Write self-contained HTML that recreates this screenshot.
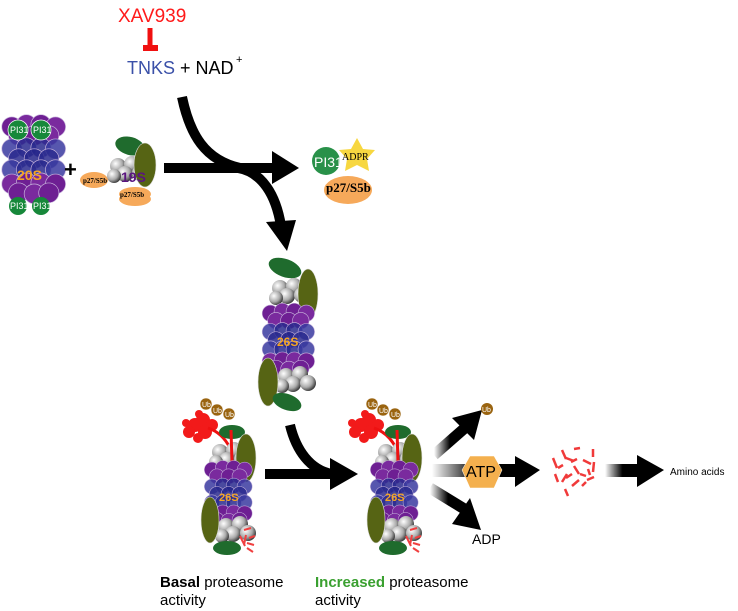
<!DOCTYPE html>
<html><head><meta charset="utf-8"><style>
html,body{margin:0;padding:0;background:#fff;width:738px;height:611px;overflow:hidden}
svg{display:block;font-family:"Liberation Sans",sans-serif}
</style></head><body>
<svg width="738" height="611" viewBox="0 0 738 611" xmlns="http://www.w3.org/2000/svg">
<defs>
 <radialGradient id="gs" cx="0.35" cy="0.35" r="0.7"><stop offset="0" stop-color="#fff"/><stop offset="0.6" stop-color="#aaa"/><stop offset="1" stop-color="#333"/></radialGradient>
 <linearGradient id="fadeR" x1="0" y1="0" x2="1" y2="0"><stop offset="0" stop-color="#000" stop-opacity="0"/><stop offset="0.5" stop-color="#000"/><stop offset="1" stop-color="#000"/></linearGradient>
 <g id="core">
  <g stroke="#c9b6dd" stroke-width="0.6">
   <circle cx="7" cy="8" r="9" fill="#6e1f93"/><circle cx="20" cy="6" r="9" fill="#7a2a9e"/><circle cx="33" cy="6" r="9" fill="#6e1f93"/><circle cx="46" cy="8" r="9" fill="#7a2a9e"/>
   <circle cx="13" cy="16" r="9" fill="#7a2a9e"/><circle cx="27" cy="16" r="9" fill="#6e1f93"/><circle cx="40" cy="16" r="9" fill="#7a2a9e"/>
   <circle cx="7" cy="28" r="9" fill="#3a3aa0" fill-opacity="0.85"/><circle cx="20" cy="27" r="9" fill="#2a2a8e" fill-opacity="0.85"/><circle cx="33" cy="27" r="9" fill="#2a2a8e" fill-opacity="0.85"/><circle cx="46" cy="28" r="9" fill="#3a3aa0" fill-opacity="0.85"/>
   <circle cx="13" cy="37" r="9" fill="#2a2a8e" fill-opacity="0.85"/><circle cx="27" cy="37" r="9" fill="#24248a" fill-opacity="0.85"/><circle cx="40" cy="37" r="9" fill="#2a2a8e" fill-opacity="0.85"/>
   <circle cx="7" cy="47" r="9" fill="#3a3aa0" fill-opacity="0.85"/><circle cx="20" cy="47" r="9" fill="#2a2a8e" fill-opacity="0.85"/><circle cx="33" cy="47" r="9" fill="#2a2a8e" fill-opacity="0.85"/><circle cx="46" cy="47" r="9" fill="#3a3aa0" fill-opacity="0.85"/>
   <circle cx="7" cy="60" r="9" fill="#7a2a9e"/><circle cx="20" cy="59" r="9" fill="#6e1f93"/><circle cx="33" cy="59" r="9" fill="#7a2a9e"/><circle cx="46" cy="60" r="9" fill="#6e1f93"/>
   <circle cx="13" cy="68" r="9" fill="#6e1f93"/><circle cx="27" cy="69" r="9" fill="#7a2a9e"/><circle cx="40" cy="68" r="9" fill="#6e1f93"/>
  </g>
 </g>
 <g id="cap">
  <circle cx="8" cy="8" r="8" fill="url(#gs)"/><circle cx="22" cy="6" r="8" fill="url(#gs)"/><circle cx="15" cy="16" r="8" fill="url(#gs)"/><circle cx="30" cy="15" r="8" fill="url(#gs)"/><circle cx="4" cy="18" r="7" fill="url(#gs)"/>
 </g>
</defs>

<!-- top text -->
<text x="118" y="22" font-size="19" fill="#ff1a1a">XAV939</text>
<rect x="147.5" y="28" width="5" height="20" fill="#f01010"/>
<rect x="143" y="45" width="15" height="6" fill="#f01010"/>
<text x="127" y="74" font-size="18" fill="#3a50a8">TNKS</text>
<text x="180" y="74" font-size="18" fill="#000">+ NAD</text>
<text x="236" y="63" font-size="11" fill="#000">+</text>

<!-- 20S with PI31 -->
<g transform="translate(4,118) scale(1.12 1.1)"><use href="#core"/></g>
<text x="17" y="180" font-size="14" font-weight="bold" fill="#f5a623">20S</text>
<g font-size="9" fill="#fff">
 <circle cx="18" cy="130" r="10" fill="#17883a" stroke="#fff" stroke-width="0.7"/><text x="10" y="133">PI31</text>
 <circle cx="41" cy="130" r="10" fill="#17883a" stroke="#fff" stroke-width="0.7"/><text x="33" y="133">PI31</text>
 <circle cx="18" cy="206" r="9" fill="#17883a"/><text x="10" y="209">PI31</text>
 <circle cx="41" cy="206" r="9" fill="#17883a"/><text x="33" y="209">PI31</text>
</g>
<text x="64" y="177" font-size="22" font-weight="bold">+</text>

<!-- 19S -->
<ellipse cx="94" cy="180" rx="14" ry="8" fill="#f6a95a"/>
<text x="83" y="183" font-size="7" font-family="Liberation Serif" font-weight="bold">p27/S5b</text>
<g transform="translate(110,158)"><use href="#cap"/></g>
<ellipse cx="130" cy="146" rx="15" ry="9" fill="#1f6b2d" transform="rotate(15 130 146)"/>
<ellipse cx="145" cy="165" rx="11" ry="22" fill="#566414" stroke="#ddd" stroke-width="0.6"/>
<ellipse cx="135" cy="199" rx="16" ry="7" fill="#f6a95a"/>
<ellipse cx="135" cy="194" rx="16" ry="7" fill="#f6a95a"/>
<text x="120" y="197" font-size="7" font-family="Liberation Serif" font-weight="bold">p27/S5b</text>
<text x="121" y="182" font-size="14" font-weight="bold" fill="#5a1580">19S</text>

<!-- PI31-ADPR-p27 complex -->
<ellipse cx="348" cy="190" rx="24" ry="14" fill="#f6a95a"/>
<polygon points="357,138 363,149 375,150 367,159 369,171 357,165 345,171 347,159 339,150 351,149" fill="#f7d740"/>
<circle cx="326" cy="161" r="14" fill="#17883a" fill-opacity="0.92"/>
<text x="314" y="167" font-size="14" fill="#fff">PI31</text>
<text x="342" y="160" font-size="10" font-family="Liberation Serif" fill="#000">ADPR</text>
<text x="326" y="192" font-size="13" font-family="Liberation Serif" font-weight="bold">p27/S5b</text>

<!-- top arrows -->
<g fill="none" stroke="#000" stroke-width="10">
 <path d="M182,97 C190,135 205,160 240,168"/>
 <path d="M164,168 L274,168"/>
 <path d="M238,168 C262,172 276,195 281,226"/>
</g>
<polygon points="272,151 299,168 272,184" fill="#000"/>
<polygon points="266,222 296,220 287,251" fill="#000"/>

<!-- middle 26S -->
<ellipse cx="285" cy="268" rx="17" ry="9" fill="#1f6b2d" transform="rotate(20 285 268)"/>
<g transform="translate(272,280)"><use href="#cap"/></g>
<ellipse cx="308" cy="294" rx="10" ry="25" fill="#566414" stroke="#ddd" stroke-width="0.6"/>
<g transform="translate(264,306) scale(0.92)"><use href="#core"/></g>
<text x="277" y="346" font-size="12" font-weight="bold" fill="#f5a623">26S</text>
<g transform="translate(278,368)"><use href="#cap"/></g>
<ellipse cx="268" cy="382" rx="10" ry="24" fill="#566414" stroke="#ddd" stroke-width="0.6"/>
<ellipse cx="287" cy="402" rx="15" ry="8" fill="#1f6b2d" transform="rotate(20 287 402)"/>

<!-- basal 26S -->
<g id="p26">
 <g fill="#f21a1a"><circle cx="195" cy="425" r="7"/><circle cx="203" cy="420" r="7"/><circle cx="205" cy="432" r="7"/><circle cx="189" cy="432" r="6"/><circle cx="212" cy="425" r="6"/><circle cx="198" cy="438" r="5"/><circle cx="186" cy="423" r="4"/><circle cx="199" cy="414" r="4"/></g>
 <path d="M208,428 C220,432 226,440 230,448" stroke="#ee1111" stroke-width="3" fill="none"/>
 <g fill="#9a6410" stroke="#fff" stroke-width="0.5">
  <circle cx="206" cy="404" r="6"/><circle cx="217" cy="410" r="6"/><circle cx="229" cy="414" r="6"/>
 </g>
 <text x="202" y="407" font-size="7" fill="#fff">Ub</text><text x="213" y="413" font-size="7" fill="#fff">Ub</text><text x="225" y="417" font-size="7" fill="#fff">Ub</text>
 <ellipse cx="232" cy="432" rx="13" ry="7" fill="#1f6b2d"/>
 <g transform="translate(212,444)"><use href="#cap"/></g>
 <path d="M231,430 L232,462" stroke="#ee1111" stroke-width="3"/>
 <ellipse cx="246" cy="458" rx="10" ry="24" fill="#566414" stroke="#ddd" stroke-width="0.6"/>
 <g transform="translate(206,463) scale(0.84)"><use href="#core"/></g>
 <text x="219" y="501" font-size="11" font-weight="bold" fill="#f5a623">26S</text>
 <g transform="translate(218,518)"><use href="#cap"/></g>
 <ellipse cx="210" cy="520" rx="9" ry="23" fill="#566414" stroke="#ddd" stroke-width="0.6"/>
 <ellipse cx="227" cy="548" rx="14" ry="7" fill="#1f6b2d"/>
 <g stroke="#f04040" stroke-width="2"><path d="M240,536 l5,10 M246,535 l-2,10 M249,538 l6,-2 M247,543 l7,2 M247,548 l6,4 M244,530 l7,-2"/></g>
</g>
<use href="#p26" transform="translate(166,0)"/>

<!-- basal->increased arrows -->
<path d="M290,425 C296,450 310,470 332,474" stroke="#000" stroke-width="10" fill="none"/>
<rect x="265" y="469" width="68" height="10" fill="#000"/>
<polygon points="330,458 358,474 330,490" fill="#000"/>

<!-- right arrows -->
<path d="M434,455 L466,427" stroke="url(#fadeR)" stroke-width="11"/>
<polygon points="452,418 482,410 474,440" fill="#000"/>
<rect x="432" y="464" width="88" height="13" fill="url(#fadeR)"/>
<polygon points="515,456 540,470 515,487" fill="#000"/>
<path d="M430,488 L466,510" stroke="url(#fadeR)" stroke-width="11"/>
<polygon points="470,498 481,530 452,524" fill="#000"/>
<polygon points="470,456 494,456 502,470 494,488 470,488 462,470" fill="#f4b04e" stroke="#fff" stroke-width="0.5"/>
<text x="466" y="477" font-size="16">ATP</text>
<circle cx="487" cy="409" r="6" fill="#9a6410"/><text x="482" y="412" font-size="7" fill="#fff">Ub</text>
<text x="472" y="544" font-size="14">ADP</text>

<!-- peptides -->
<g stroke="#f03a3a" stroke-width="2.5">
 <path d="M562,450 l4,9 M574,449 l6,-1 M593,449 l0,8 M553,458 l4,10 M566,458 l8,3 M583,460 l8,4 M594,462 l-1,10 M558,468 l5,-3 M574,466 l5,8 M588,469 l2,6 M555,474 l3,8 M566,478 l6,-4 M580,474 l6,2 M594,477 l-7,3 M562,482 l5,-8 M572,486 l7,-6 M565,489 l3,7 M586,482 l-4,4 M577,459 l-6,3"/>
</g>

<!-- amino arrow -->
<rect x="605" y="464" width="35" height="13" fill="url(#fadeR)"/>
<polygon points="637,455 664,470 637,487" fill="#000"/>
<text x="670" y="475" font-size="10">Amino acids</text>

<!-- captions -->
<text x="160" y="587" font-size="15"><tspan font-weight="bold">Basal</tspan> proteasome</text>
<text x="160" y="605" font-size="15">activity</text>
<text x="315" y="587" font-size="15"><tspan font-weight="bold" fill="#3aa030">Increased</tspan> proteasome</text>
<text x="315" y="605" font-size="15">activity</text>
</svg>
</body></html>
